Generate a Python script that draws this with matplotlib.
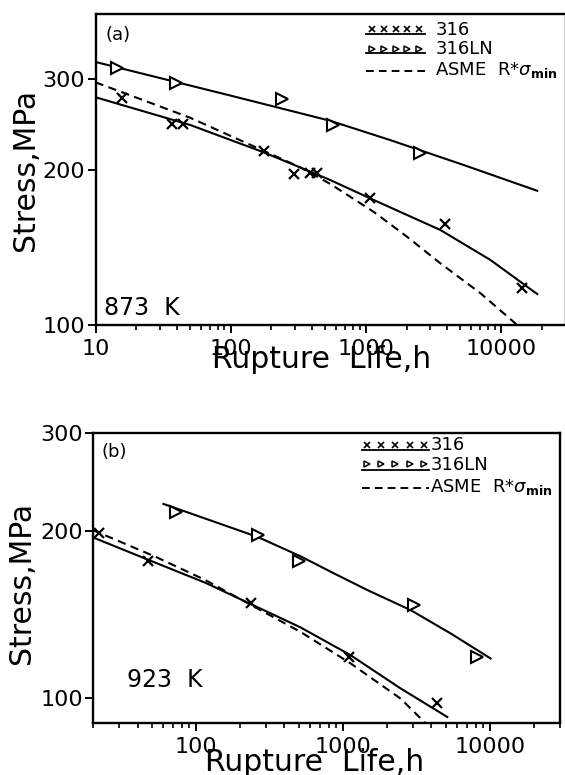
import numpy as np
import matplotlib
matplotlib.use('Agg')
import matplotlib.pyplot as plt
from matplotlib.ticker import LogLocator, NullFormatter, NullLocator

plt.rcParams['font.family'] = ['DejaVu Sans']
plt.rcParams['mathtext.fontset'] = 'dejavusans'

# ── (a) 873 K: data ──────────────────────────────────────────────────────────
A_316_LIFE = [15.7, 36.6, 44.7, 175, 295, 388, 435, 1080, 3880, 14360]
A_316_STRESS = [274.5, 245.4, 245.4, 217, 196, 196.5, 196.5, 176, 156.6, 117.8]
A_316LN_LIFE = [14.5, 39.5, 239, 575, 2535]
A_316LN_STRESS = [315, 293.5, 273.3, 244, 215.4]

A_316_FIT_LIFE = [10, 50, 175, 327, 546, 1079, 3565, 8360, 18530]
A_316_FIT_STRESS = [276, 244, 216, 201.8, 190.8, 175.8, 152.7, 133.6, 114.8]
A_316LN_FIT_LIFE = [10, 100, 546, 1517, 5310, 18530]
A_316LN_FIT_STRESS = [323, 278, 248.5, 228, 204, 181.9]
A_ASME_LIFE = [10, 50, 117, 327, 546, 1143, 2018, 3565, 7050, 13180]
A_ASME_STRESS = [295, 252, 228, 202, 187.5, 165.6, 148.2, 131.6, 115.2, 100]

# ── (b) 923 K ────────────────────────────────────────────────────────────────
B_316_LIFE = [21.8, 47.1, 236.6, 1099, 4336]
B_316_STRESS = [198, 176.7, 148, 118.6, 97.9]
B_316LN_LIFE = [73, 263, 505, 3041, 8200]
B_316LN_STRESS = [216.6, 196.7, 176.6, 147, 118.3]

B_316_FIT_LIFE = [19.8, 53, 115.8, 515, 1128, 2470, 5130]
B_316_FIT_STRESS = [194.8, 175.3, 161.3, 134.0, 119.4, 104, 92.4]
B_316LN_FIT_LIFE = [60, 264, 515, 869, 1466, 2888, 5405, 10110]
B_316LN_FIT_STRESS = [223.8, 195, 180, 167.7, 156.5, 144, 130.7, 117.8]
B_ASME_LIFE = [19.8, 53, 115.8, 515, 1128, 2470, 3652]
B_ASME_STRESS = [200.8, 179.7, 163.1, 131.5, 115.4, 99.7, 90]

X_TICKS_A = [10, 100, 1000, 10000]
X_TICKS_B = [100, 1000, 10000]
Y_TICKS = [100, 200, 300]

DASH = (0, (4, 2.6))
W, H = 565, 775
ASME_LABEL = r'ASME  R*$\sigma_{\mathbf{min}}$'


def style_axes(ax, xlim, ylim, xticks):
    ax.set_xscale('log')
    ax.set_yscale('log')
    ax.set_xlim(*xlim)
    ax.set_ylim(*ylim)
    ax.set_xticks(xticks, [str(t) for t in xticks])
    ax.xaxis.set_minor_locator(LogLocator(base=10, subs=range(2, 10)))
    ax.xaxis.set_minor_formatter(NullFormatter())
    ax.set_yticks(Y_TICKS, [str(t) for t in Y_TICKS])
    ax.yaxis.set_minor_locator(NullLocator())
    ax.tick_params(axis='both', which='major', direction='out', length=6,
                   width=1.4, labelsize=16)
    ax.tick_params(axis='x', which='minor', direction='out', length=3.5,
                   width=1.2)
    ax.tick_params(axis='x', which='major', pad=4)
    ax.tick_params(axis='y', which='major', pad=1.5)
    for s in ax.spines.values():
        s.set_linewidth(1.7)


def legend(ax, x0, x1, xt, rows):
    # rows: (kind, y_marker, y_line, y_text, text)
    xs = np.linspace(x0 + 0.012, x1 - 0.012, 5)
    for kind, ym, yl, yt, txt in rows:
        if kind == 'dash':
            ax.plot([x0, x1], [ym, ym], color='k', lw=1.4, ls=DASH,
                    transform=ax.transAxes, clip_on=False)
        else:
            ax.plot([x0, x1], [yl, yl], color='k', lw=1.3,
                    transform=ax.transAxes, clip_on=False)
            if kind == 'x':
                ax.plot(xs, [ym] * 5, ls='none', marker='x', ms=4.5, mew=1.2,
                        color='k', transform=ax.transAxes, clip_on=False)
            else:
                ax.plot(xs, [ym] * 5, ls='none', marker='>', ms=5, mew=1.1,
                        mfc='white', mec='k', transform=ax.transAxes,
                        clip_on=False)
        ax.text(xt, yt, txt, transform=ax.transAxes, fontsize=13,
                va='center', ha='left')


def draw(ax, fits, pts):
    for life, stress, ls in fits:
        ax.plot(life, stress, color='k', lw=1.5, ls=ls)
    (l316, s316), (lln, sln) = pts
    ax.plot(l316, s316, ls='none', marker='x', ms=7, mew=1.6, color='k')
    ax.plot(lln, sln, ls='none', marker='>', ms=8, mew=1.5, mfc='white',
            mec='k')


fig = plt.figure(figsize=(W / 100, H / 100), dpi=100)

# ── panel (a) ────────────────────────────────────────────────────────────────
ax1 = fig.add_axes([95.5 / W, 1 - 325 / H, 470 / W, 311 / H])
draw(ax1,
     [(A_316_FIT_LIFE, A_316_FIT_STRESS, '-'),
      (A_316LN_FIT_LIFE, A_316LN_FIT_STRESS, '-'),
      (A_ASME_LIFE, A_ASME_STRESS, DASH)],
     [(A_316_LIFE, A_316_STRESS), (A_316LN_LIFE, A_316LN_STRESS)])
style_axes(ax1, (10, 30000), (100, 400), X_TICKS_A)
ax1.set_ylabel('Stress,MPa', fontsize=21.5)
ax1.yaxis.set_label_coords(-0.118, 0.5)
ax1.set_xlabel('Rupture  Life,h', fontsize=21.5, va='baseline')
ax1.xaxis.set_label_coords(0.48, -0.138)
ax1.text(0.022, 0.932, '(a)', transform=ax1.transAxes, fontsize=13,
         va='center', ha='left')
ax1.text(0.019, 0.032, '873  K', transform=ax1.transAxes, fontsize=17,
         va='baseline', ha='left')
legend(ax1, 0.576, 0.701, 0.723,
       [('x', 0.952, 0.937, 0.949, '316'),
        ('tri', 0.889, 0.873, 0.886, '316LN'),
        ('dash', 0.817, None, 0.821, ASME_LABEL)])

# ── panel (b) ────────────────────────────────────────────────────────────────
ax2 = fig.add_axes([93.3 / W, 1 - 723.3 / H, 466.7 / W, 290 / H])
draw(ax2,
     [(B_316_FIT_LIFE, B_316_FIT_STRESS, '-'),
      (B_316LN_FIT_LIFE, B_316LN_FIT_STRESS, '-'),
      (B_ASME_LIFE, B_ASME_STRESS, DASH)],
     [(B_316_LIFE, B_316_STRESS), (B_316LN_LIFE, B_316LN_STRESS)])
style_axes(ax2, (20, 30000), (90, 300), X_TICKS_B)
ax2.set_ylabel('Stress,MPa', fontsize=21.5)
ax2.yaxis.set_label_coords(-0.123, 0.484)
ax2.set_xlabel('Rupture  Life,h', fontsize=21.5, va='baseline')
ax2.xaxis.set_label_coords(0.475, -0.163)
ax2.text(0.0165, 0.9355, '(b)', transform=ax2.transAxes, fontsize=13,
         va='center', ha='left')
ax2.text(0.0713, 0.126, '923  K', transform=ax2.transAxes, fontsize=17,
         va='baseline', ha='left')
legend(ax2, 0.575, 0.720, 0.722,
       [('x', 0.961, 0.942, 0.958, '316'),
        ('tri', 0.893, 0.873, 0.889, '316LN'),
        ('dash', 0.811, None, 0.815, ASME_LABEL)])

fig.savefig('out.png', dpi=100)
